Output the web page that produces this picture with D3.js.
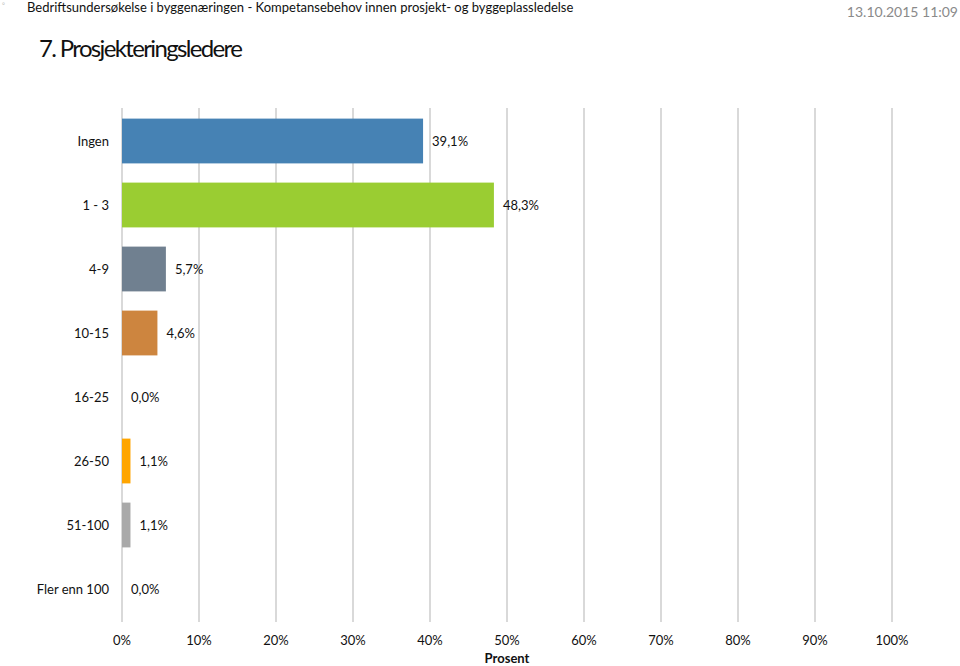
<!DOCTYPE html>
<html><head><meta charset="utf-8">
<script src="https://cdn.jsdelivr.net/npm/d3@7"></script>
<style>body{margin:0;background:#fff}svg{display:block}text{font-family:Lato,"Open Sans",sans-serif}</style>
</head><body>
<script>
const categories = ["Ingen","1 - 3","4-9","10-15","16-25","26-50","51-100","Fler enn 100"];
const values = [39.1, 48.3, 5.7, 4.6, 0.0, 1.1, 1.1, 0.0];
const colors = ["#4682B4","#9ACD32","#708090","#CD853F","#888888","#FFA500","#A9A9A9","#888888"];
const ticks = [0,10,20,30,40,50,60,70,80,90,100];
const headerText = "Bedriftsundersøkelse i byggenæringen - Kompetansebehov innen prosjekt- og byggeplassledelse";
const dateText = "13.10.2015 11:09";
const titleText = "7. Prosjekteringsledere";
const axisTitle = "Prosent";

const W=960,H=666;
const svg=d3.select("body").append("svg").attr("width",W).attr("height",H);
const x=d3.scaleLinear().domain([0,100]).range([122,892]);
const y=d3.scaleBand().domain(categories).range([109,621]).paddingInner(0.3).paddingOuter(0.15);

svg.append("text").attr("x",2).attr("y",8).attr("font-size",7).attr("fill","#bbb").text("°");
svg.append("text").attr("x",27).attr("y",12).attr("font-size",13).attr("fill","#111").text(headerText);
svg.append("text").attr("x",958).attr("y",17).attr("text-anchor","end").attr("font-size",14).attr("fill","#8a8a8a").text(dateText);
svg.append("text").attr("x",39).attr("y",57).attr("font-size",24).attr("letter-spacing",-1.65).attr("fill","#111").text(titleText);

// grid
svg.append("g").selectAll("line").data(ticks).join("line")
  .attr("x1",d=>x(d)).attr("x2",d=>x(d)).attr("y1",108).attr("y2",622)
  .attr("stroke","#d9d9d9").attr("stroke-width",2);

// bars
svg.append("g").selectAll("rect").data(values).join("rect")
  .attr("x",x(0)).attr("y",(d,i)=>y(categories[i]))
  .attr("width",d=>x(d)-x(0)).attr("height",y.bandwidth())
  .attr("fill",(d,i)=>colors[i]);

// value labels
svg.append("g").selectAll("text").data(values).join("text")
  .attr("x",d=>x(d)+9).attr("y",(d,i)=>y(categories[i])+y.bandwidth()/2+5)
  .attr("font-size",13).attr("fill","#111")
  .text(d=>d.toFixed(1).replace(".",",")+"%");

// category labels
svg.append("g").selectAll("text").data(categories).join("text")
  .attr("x",109).attr("y",d=>y(d)+y.bandwidth()/2+5)
  .attr("text-anchor","end").attr("font-size",13).attr("fill","#111").text(d=>d);

// tick labels
svg.append("g").selectAll("text").data(ticks).join("text")
  .attr("x",d=>x(d)).attr("y",645).attr("text-anchor","middle")
  .attr("font-size",13).attr("fill","#111").text(d=>d+"%");

svg.append("text").attr("x",507).attr("y",663).attr("text-anchor","middle")
  .attr("font-size",13).attr("font-weight","bold").attr("fill","#111").text(axisTitle);
</script>
</body></html>
